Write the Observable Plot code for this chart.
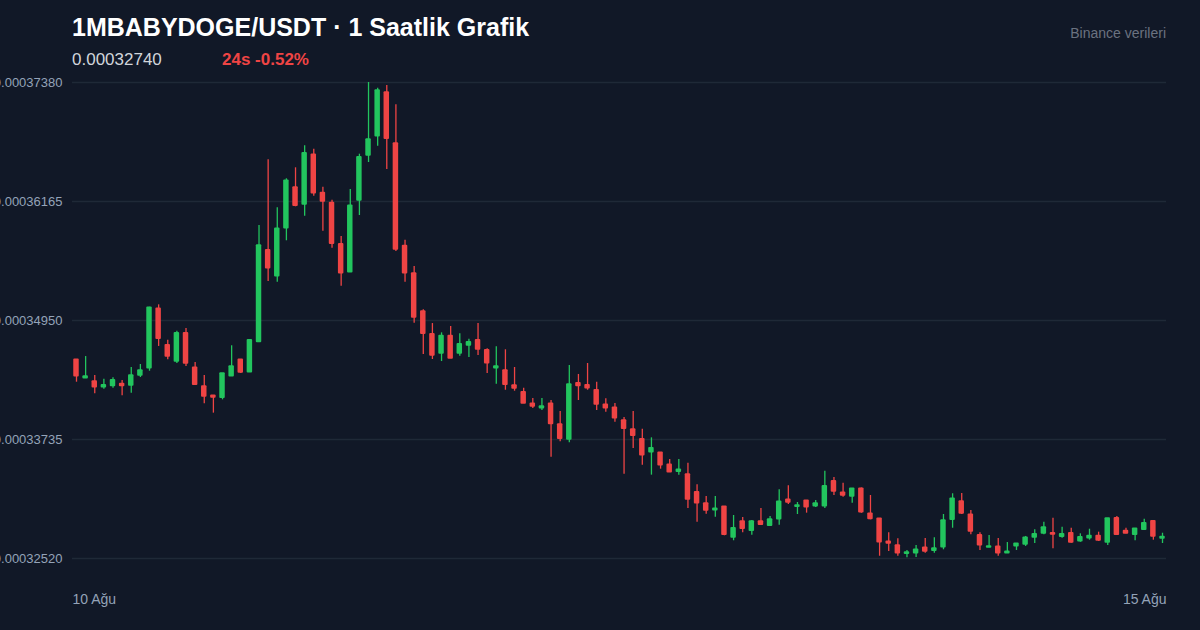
<!DOCTYPE html>
<html>
<head>
<meta charset="utf-8">
<script src="https://cdn.jsdelivr.net/npm/d3@7"></script>
<script src="https://cdn.jsdelivr.net/npm/@observablehq/plot@0.6"></script>
<style>
  html, body { margin: 0; padding: 0; background: #111827; }
  body { width: 1200px; height: 630px; position: relative; overflow: hidden; font-family: "Liberation Sans", Arial, sans-serif; }
  #title { position: absolute; left: 72px; top: 13px; font-size: 25px; font-weight: bold; color: #ffffff; white-space: nowrap; }
  #price { position: absolute; left: 72px; top: 50px; font-size: 17px; color: #d1d5db; }
  #change { position: absolute; left: 222px; top: 50px; font-size: 17px; font-weight: bold; color: #ef4444; }
  #source { position: absolute; right: 34px; top: 25px; font-size: 14px; color: #6b7280; }
  #chart { position: absolute; left: 0; top: 0; }
</style>
</head>
<body>
<div id="chart"></div>
<div id="title">1MBABYDOGE/USDT · 1 Saatlik Grafik</div>
<div id="price">0.00032740</div>
<div id="change">24s -0.52%</div>
<div id="source">Binance verileri</div>
<script>
// Prices in units of 1e-8 USDT (hourly candles, 10–15 Ağu)
const UNIT = 1e-8;
const open = [34549,34361,34327,34269,34283,34300,34286,34388,34463,35069,34698,34531,34820,34467,34276,34181,34161,34381,34549,34422,
  34730,35668,35402,35892,36308,36134,36642,36250,36148,35729,35443,36175,36635,36832,37278,36757,35709,35430,35042,34810,
  34613,34790,34613,34695,34749,34647,34463,34440,34286,34218,34100,34055,34100,33888,33735,34310,34289,34238,34089,34059,
  33929,33837,33738,33605,33599,33477,33405,33378,33197,33082,33013,33048,32734,32898,32803,32898,32854,32921,33119,33048,
  33109,33054,33054,33309,33191,33153,33232,32976,32925,32691,32653,32568,32574,32629,32599,32635,32915,33102,32966,32758,
  32632,32639,32574,32646,32663,32734,32775,32778,32742,32778,32697,32727,32748,32683,32931,32799,32762,32813,32901,32724];
const high = [34552,34582,34388,34351,34365,34337,34470,34501,35085,35110,34749,34841,34868,34521,34388,34181,34409,34692,34549,34756,
  35920,36591,36101,36397,36509,36734,36699,36311,36178,35808,36288,36648,37380,37322,37349,37152,35770,35501,35059,34919,
  34824,34889,34814,34759,34919,34661,34681,34651,34470,34259,34154,34154,34133,34021,34491,34399,34511,34320,34150,34103,
  33960,34021,33840,33752,33599,33531,33531,33493,33272,33153,33153,33048,32959,32939,32908,33031,32949,33221,33262,33092,
  33109,33112,33411,33347,33289,33232,33240,33163,32925,32782,32721,32602,32653,32724,32731,32969,33181,33184,33010,32782,
  32755,32724,32683,32670,32745,32813,32891,32931,32840,32829,32772,32819,32789,32928,32949,32829,32823,32921,32901,32778];
const low = [34320,34361,34202,34249,34259,34181,34208,34368,34432,34685,34549,34511,34480,34294,34100,34004,34140,34381,34409,34422,
  34728,35348,35341,35764,36111,36015,36219,35862,35688,35300,35443,36022,36563,36730,36492,35655,35341,34922,34603,34552,
  34531,34562,34586,34572,34593,34409,34300,34238,34228,34103,34052,34031,33554,33712,33701,34133,34238,34031,34014,33912,
  33381,33643,33473,33371,33432,33401,33371,33031,32891,32972,32942,32752,32701,32782,32758,32864,32854,32860,33071,32969,
  32983,33041,33031,33163,33146,33085,32983,32915,32543,32591,32543,32527,32530,32574,32574,32609,32829,32969,32762,32602,
  32629,32543,32574,32602,32643,32673,32762,32619,32727,32676,32686,32707,32694,32653,32762,32772,32701,32813,32707,32673];
const close = [34381,34378,34269,34289,34340,34283,34388,34440,35080,34763,34582,34820,34511,34294,34174,34164,34409,34480,34419,34749,
  35716,35484,35886,36376,36121,36658,36250,36165,35733,35433,36121,36617,36798,37298,36805,35675,35433,34981,34814,34593,
  34790,34562,34708,34728,34654,34514,34480,34294,34256,34103,34072,34072,33895,33742,34297,34283,34259,34092,34055,33953,
  33844,33773,33575,33646,33473,33401,33426,33122,33085,33010,33027,32762,32829,32823,32898,32864,32918,33099,33092,33061,
  33044,33082,33258,33204,33163,33232,32993,32925,32686,32673,32574,32581,32609,32591,32622,32908,33129,32979,32796,32656,
  32643,32574,32588,32670,32731,32768,32837,32765,32768,32683,32737,32748,32704,32928,32762,32775,32823,32880,32745,32740];
const yTicks = [0.00032520, 0.00033735, 0.00034950, 0.00036165, 0.00037380];
const xTickLabels = ["10 Ağu", "15 Ağu"];

const candles = open.map((o, i) => ({
  i,
  open: o * UNIT, high: high[i] * UNIT, low: low[i] * UNIT, close: close[i] * UNIT,
  up: close[i] >= o
}));
const n = candles.length;
const GREEN = "#22c55e", RED = "#ef4444";

const chart = Plot.plot({
  width: 1200,
  height: 630,
  marginTop: 82,
  marginBottom: 72,
  marginLeft: 72,
  marginRight: 34,
  style: { background: "transparent", fontFamily: "Liberation Sans, Arial, sans-serif", fontSize: "13px", overflow: "visible" },
  x: { domain: [0, n - 1], inset: 4, axis: null },
  y: { domain: [yTicks[0], yTicks[yTicks.length - 1]], axis: null },
  marks: [
    Plot.ruleY(yTicks, { stroke: "#1f2937", strokeWidth: 1.3 }),
    Plot.text(yTicks, { y: d => d, frameAnchor: "left", dx: -10, textAnchor: "end", text: d => d.toFixed(8), fill: "#94a3b8", fontSize: 13 }),
    Plot.ruleX(candles, { x: "i", y1: "low", y2: "high", stroke: d => d.up ? GREEN : RED, strokeWidth: 1.3 }),
    Plot.rect(candles, {
      x1: d => d.i - 0.3, x2: d => d.i + 0.3, y1: "open", y2: "close",
      fill: d => d.up ? GREEN : RED, insetTop: -0.8, insetBottom: -0.8, rx: 1
    }),
    Plot.text([xTickLabels[0]], { x: 0, frameAnchor: "bottom", dy: 45, dx: -4, textAnchor: "start", text: d => d, fill: "#94a3b8", fontSize: 14 }),
    Plot.text([xTickLabels[1]], { x: n - 1, frameAnchor: "bottom", dy: 45, dx: 4, textAnchor: "end", text: d => d, fill: "#94a3b8", fontSize: 14 })
  ]
});
document.getElementById("chart").appendChild(chart);
</script>
</body>
</html>
